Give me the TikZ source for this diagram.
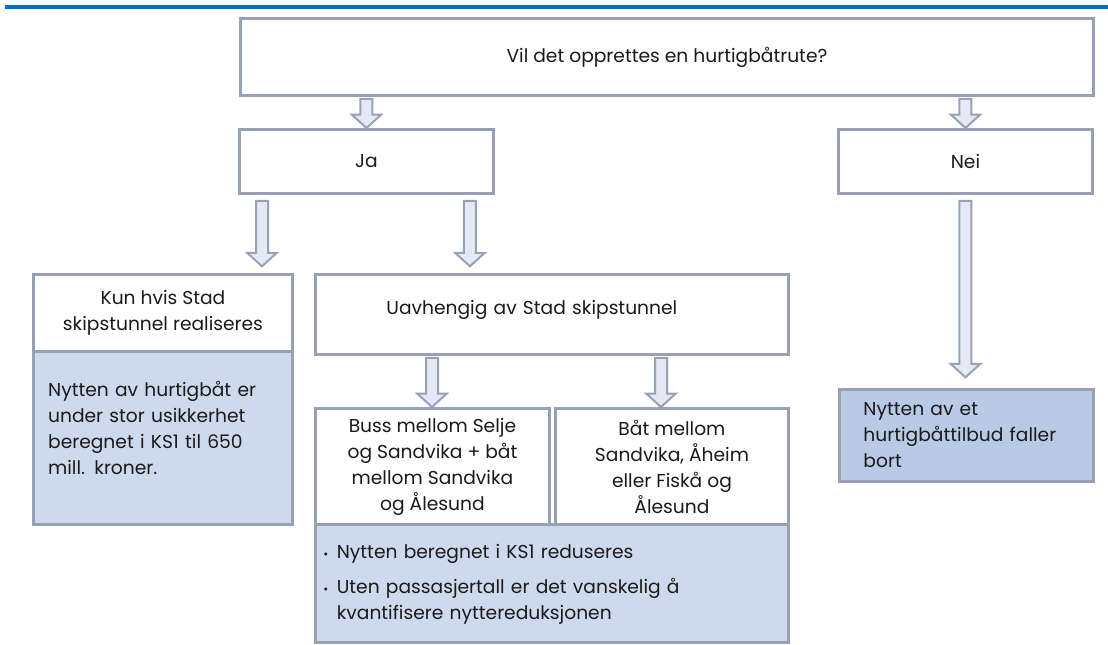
\documentclass[tikz,border=0pt]{standalone}
\usepackage{fontspec}
\setmainfont{Poppins}
\usepackage{tikz}
\usetikzlibrary{calc}
\definecolor{ink}     {HTML}{1A1A1A}
\definecolor{rulebl}  {HTML}{0070C0}
\definecolor{boxline} {HTML}{97A0B5}
\definecolor{arrline} {HTML}{98A1B6}
\definecolor{arrfill} {HTML}{E4E9F5}
\definecolor{paleblue}{HTML}{CFD9EE}
\definecolor{midblue} {HTML}{B9CAE6}
\newcommand{\flowfont}{\fontsize{14}{19.5}\selectfont}
\tikzset{
  flowbox/.style ={draw=boxline, fill=white, line width=2.2pt,
                   anchor=north west, inner sep=0pt, align=center,
                   font=\flowfont, text=ink},
  notebox/.style ={flowbox, fill=paleblue, align=left},
  endbox/.style  ={flowbox, fill=midblue, align=left},
  blockarr/.style={draw=arrline, fill=arrfill, line width=1.5pt,
                   to path={let \p1=(\tikztostart), \p2=(\tikztotarget) in
                     (\x1-4.5pt,\y1) -- (\x1+4.5pt,\y1) -- (\x1+4.5pt,\y2+10pt)
                     -- (\x1+11pt,\y2+10pt) -- (\x1,\y2) -- (\x1-11pt,\y2+10pt)
                     -- (\x1-4.5pt,\y2+10pt) -- cycle}},
}

\begin{document}
\begin{tikzpicture}[x=0.75pt,y=-0.75pt]
  \useasboundingbox (0,0) rectangle (1108,645);
  \draw[rulebl, line width=3pt] (5,7) -- (1108,7);

  % question and answers
  \node[flowbox, minimum width=639.75pt, minimum height=57.75pt] (q) at (239,17)
    {Vil det opprettes en hurtigbåtrute?};
  \node[flowbox, minimum width=190.5pt, minimum height=48pt] (ja) at (238,128) {Ja};
  \node[flowbox, minimum width=190.5pt, minimum height=48pt] (nei) at (837,128) {Nei};

  % Ja, left branch
  \node[flowbox, minimum width=194.25pt, minimum height=57.75pt] (kun) at (32,273)
    {Kun hvis Stad\\skipstunnel realiseres};
  \node[notebox, minimum width=194.25pt, inner xsep=11pt, inner ysep=22.75pt,
        text width=172.25pt, text height=11pt, text depth=73.25pt] (kunb) at (32,350)
    {Nytten av hurtigbåt er\\under stor usikkerhet\\beregnet i KS1 til 650\\mill. kroner.};

  % Ja, right branch
  \node[flowbox, align=left, minimum width=354.75pt, minimum height=60pt,
        inner xsep=53.25pt, text width=248.25pt, text height=11pt, text depth=11pt]
        (uav) at (314,273) {Uavhengig av Stad skipstunnel};
  \node[flowbox, minimum width=175.5pt, minimum height=87pt] (buss) at (314,407)
    {Buss mellom Selje\\og Sandvika + båt\\mellom Sandvika\\og Ålesund};
  \node[flowbox, minimum width=174.75pt, minimum height=87pt] (bat) at (554,407)
    {Båt mellom\\Sandvika, Åheim\\eller Fiskå og\\Ålesund};
  \node[notebox, minimum width=354.75pt, inner xsep=6pt, inner ysep=14.5pt,
        text width=342.75pt, text height=11pt, text depth=48.5pt] (bul) at (314,523)
    {\makebox[10pt][l]{\small\textbullet}Nytten beregnet i KS1 reduseres\\[7pt]
     \makebox[10pt][l]{\small\textbullet}Uten passasjertall er det vanskelig å\\
     \hspace*{10pt}kvantifisere nyttereduksjonen};

  % Nei branch
  \node[endbox, minimum width=190.5pt, minimum height=69pt, inner xsep=18pt,
        text width=154.5pt] (nyt) at (838,388)
    {Nytten av et\\hurtigbåttilbud faller\\bort};

  % arrows
  \coordinate (jl) at ($(ja.south west)+(24,6)$);
  \coordinate (jr) at ($(ja.south east)+(-25,6)$);
  \coordinate (ul) at ($(uav.south west)+(118,2)$);
  \coordinate (ur) at ($(uav.south west)+(347,2)$);
  \path[blockarr] ([yshift=-1.5pt]q.south -| ja.north) to (ja.north);
  \path[blockarr] ([yshift=-1.5pt]q.south -| nei.north) to (nei.north);
  \path[blockarr] (jl) to ([yshift=5pt]jl |- kun.north);
  \path[blockarr] (jr) to ([yshift=5pt]jr |- uav.north);
  \path[blockarr] (ul) to (ul |- buss.north);
  \path[blockarr] (ur) to (ur |- bat.north);
  \path[blockarr] ([yshift=-4.5pt]nei.south) to ([yshift=8pt]nyt.north);
\end{tikzpicture}
\end{document}
